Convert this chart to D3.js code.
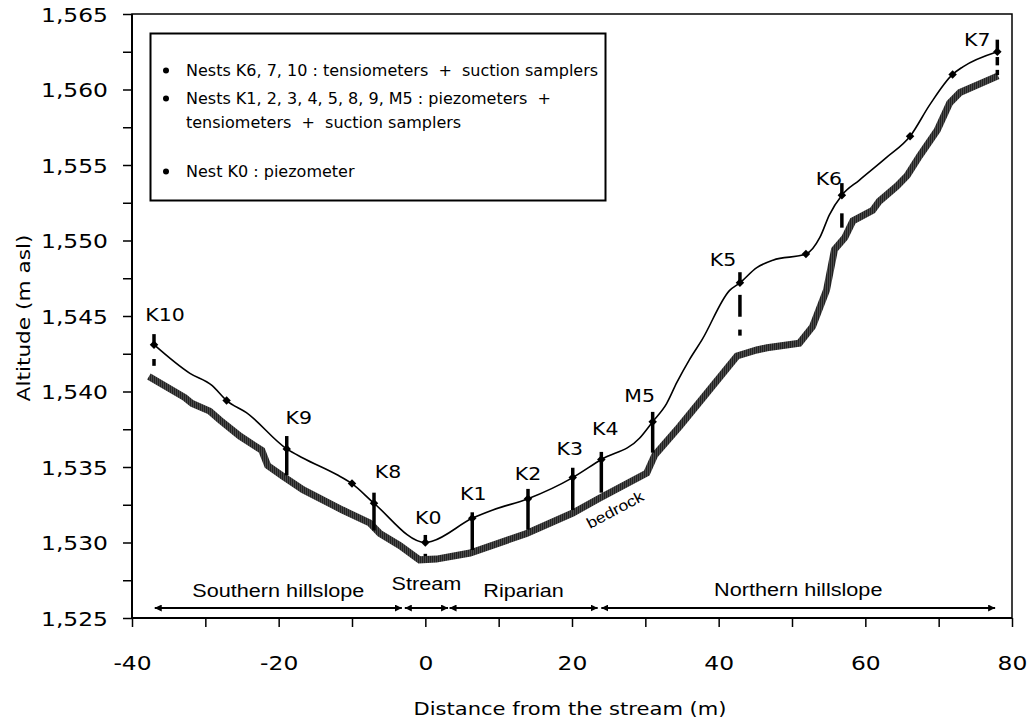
<!DOCTYPE html>
<html>
<head>
<meta charset="utf-8">
<script src="https://cdn.jsdelivr.net/npm/d3@7"></script>
<style>
  html, body { margin: 0; padding: 0; background: #fff; }
  svg { display: block; }
  text { fill: #000; }
</style>
</head>
<body>
<svg id="chart" width="1032" height="723"></svg>
<script>
// Ground surface along the transect (distance from stream, m / altitude, m asl)
const surfaceDist = [-37.0, -32.1, -29.1, -27.1, -24.4, -18.9, -16.7, -12.1, -10.0, -7.0,
  0.0, 1.0, 6.4, 9.2, 14.0, 20.1, 24.0, 29.2, 31.0, 32.9,
  34.3, 36.0, 37.7, 41.5, 42.9, 45.2, 47.4, 51.9, 53.8, 55.1,
  56.8, 59.2, 62.9, 66.1, 68.8, 71.9, 73.3, 78.0];
const surfaceAlt = [1543.1, 1541.2, 1540.4, 1539.4, 1538.6, 1536.2, 1535.6, 1534.5, 1533.9, 1532.6,
  1530.0, 1530.1, 1531.6, 1532.15, 1532.9, 1534.3, 1535.5, 1536.9, 1538.0, 1539.2,
  1540.6, 1542.1, 1543.4, 1546.7, 1547.2, 1548.2, 1548.7, 1549.1, 1550.2, 1551.7,
  1553.0, 1554.0, 1555.5, 1556.9, 1559.0, 1561.0, 1561.5, 1562.5];

// Surveyed points shown as diamonds on the surface
const markerDist = [-37.0, -27.1, -18.9, -10.0, -7.0, 0.0, 6.4, 14.0, 20.1, 24.0, 31.0, 42.9, 51.9, 56.8, 66.1, 71.9, 78.0];
const markerAlt  = [1543.1, 1539.4, 1536.2, 1533.9, 1532.6, 1530.0, 1531.6, 1532.9, 1534.3, 1535.5, 1538.0, 1547.2, 1549.1, 1553.0, 1556.9, 1561.0, 1562.5];

// Bedrock contact
const bedDist = [-37.7, -32.8, -31.8, -29.4, -28.0, -25.3, -22.3, -21.5, -19.45, -16.7,
  -11.3, -7.6, -6.2, -3.5, -0.8, 1.5, 6.1, 13.8, 20.1, 23.8,
  30.2, 31.3, 34.7, 38.4, 42.5, 45.2, 46.6, 51.0, 52.8, 54.7,
  55.8, 57.2, 58.3, 61.0, 61.9, 64.3, 65.7, 67.4, 69.8, 71.5,
  72.9, 78.1];
const bedAlt = [1541.0, 1539.6, 1539.2, 1538.7, 1538.1, 1537.05, 1536.1, 1535.1, 1534.4, 1533.5,
  1532.15, 1531.3, 1530.6, 1529.8, 1528.85, 1528.9, 1529.3, 1530.6, 1531.95, 1532.95,
  1534.6, 1535.8, 1537.7, 1539.9, 1542.35, 1542.75, 1542.9, 1543.2, 1544.3, 1546.7,
  1549.4, 1550.2, 1551.3, 1552.0, 1552.6, 1553.6, 1554.3, 1555.6, 1557.3, 1559.1,
  1559.8, 1560.9];

// Instrument nests
const nestNames = ["K10", "K9", "K8", "K0", "K1", "K2", "K3", "K4", "M5", "K5", "K6", "K7"];
const nestDist  = [-37.0, -18.9, -7.0, 0.0, 6.4, 14.0, 20.1, 24.0, 31.0, 42.9, 56.8, 78.0];
// solid part of each nest [top, bottom] (m asl)
const nestSolid = [[1543.8, 1543.1], [1537.05, 1534.45], [1533.3, 1530.8], [1530.5, 1530.0],
  [1532.0, 1529.5], [1533.55, 1530.85], [1534.95, 1532.15], [1536.0, 1533.3],
  [1538.65, 1535.95], [1547.9, 1547.2], [1553.8, 1553.0], [1563.3, 1562.5]];
// broken (dashed) parts below the surface (m asl)
const nestDashed = [[[1542.15, 1541.7]], [], [], [[1529.25, 1529.1]],
  [], [], [], [],
  [], [[1546.4, 1544.95], [1544.1, 1543.7]], [[1551.8, 1550.85]], [[1562.15, 1561.6], [1561.3, 1560.95]]];

// Landscape units along the transect
const zoneNames = ["Southern hillslope", "Stream", "Riparian", "Northern hillslope"];
const zoneFrom  = [-36.9, -2.8, 3.3, 24.0];
const zoneTo    = [-3.2, 3.1, 23.5, 77.7];

// Axis ticks
const yTicks = d3.range(1525, 1565.01, 2.5);
const xTicks = d3.range(-40, 80.01, 10);

const legendLines = [
  { bullet: true,  text: "Nests K6, 7, 10 : tensiometers  +  suction samplers" },
  { bullet: true,  text: "Nests K1, 2, 3, 4, 5, 8, 9, M5 : piezometers  +" },
  { bullet: false, text: "tensiometers  +  suction samplers" },
  { bullet: true,  text: "Nest K0 : piezometer" }
];

// ---- layout ----
const SX = 1.17; // horizontal text stretch
const VERDANA = "'DejaVu Sans', Verdana, sans-serif";
const ARIAL = "'Liberation Sans', Arial, sans-serif";
const plot = { left: 132, right: 1012, top: 14, bottom: 618 };

const svg = d3.select("#chart");
const x = d3.scaleLinear().domain([-40, 80]).range([plot.left, plot.right]);
const y = d3.scaleLinear().domain([1525, 1565]).range([plot.bottom, plot.top]);

function label(parent, str, px, py, opts = {}) {
  const rot = opts.rotate ? ` rotate(${opts.rotate})` : "";
  const sx = opts.sx == null ? SX : opts.sx;
  return parent.append("text")
    .attr("transform", `translate(${px},${py})${rot} scale(${sx},1)`)
    .attr("text-anchor", opts.anchor || "start")
    .style("font-family", opts.family || VERDANA)
    .style("font-size", (opts.size || 17) + "px")
    .style("white-space", "pre")
    .text(str);
}

const defs = svg.append("defs");
// hatched texture of the bedrock band
const hatch = defs.append("pattern").attr("id", "hatch")
  .attr("patternUnits", "userSpaceOnUse").attr("width", 2).attr("height", 2);
hatch.append("rect").attr("width", 2).attr("height", 2).attr("fill", "#4a4a4a");
hatch.append("rect").attr("width", 1).attr("height", 2).attr("fill", "#222");

["start", "end"].forEach(k => {
  defs.append("marker").attr("id", "arrow-" + k)
    .attr("viewBox", "0 0 10 10").attr("refX", k === "end" ? 10 : 0).attr("refY", 5)
    .attr("markerWidth", 7).attr("markerHeight", 7).attr("markerUnits", "userSpaceOnUse")
    .attr("orient", "auto")
    .append("path")
    .attr("d", k === "end" ? "M0,0 L10,5 L0,10 Z" : "M10,0 L0,5 L10,10 Z")
    .attr("fill", "#000");
});

// ---- axes ----
const yAxis = d3.axisLeft(y).tickValues(yTicks).tickSize(9)
  .tickFormat(d => (Math.abs(d % 5) < 1e-6 ? d3.format(",")(d) : ""));
const gy = svg.append("g").attr("transform", `translate(${plot.left},0)`).call(yAxis);
gy.select(".domain").remove();
gy.selectAll(".tick line").attr("stroke", "#000").attr("stroke-width", 1.5);
gy.selectAll(".tick text")
  .attr("x", null).attr("dy", null)
  .attr("transform", `translate(-24,7) scale(${SX},1)`)
  .style("font-family", VERDANA).style("font-size", "20px").attr("fill", "#000");

const xAxis = d3.axisBottom(x).tickValues(xTicks).tickSize(9)
  .tickFormat(d => (Math.abs(d % 20) < 1e-6 ? String(d) : ""));
const gx = svg.append("g").attr("transform", `translate(0,${plot.bottom})`).call(xAxis);
gx.select(".domain").remove();
gx.selectAll(".tick line").attr("stroke", "#000").attr("stroke-width", 1.5);
gx.selectAll(".tick text")
  .attr("y", null).attr("dy", null)
  .attr("transform", `translate(0,52) scale(${SX},1)`)
  .style("font-family", VERDANA).style("font-size", "20px").attr("fill", "#000");

// plot frame
svg.append("rect")
  .attr("x", plot.left).attr("y", plot.top)
  .attr("width", plot.right - plot.left).attr("height", plot.bottom - plot.top)
  .attr("fill", "none").attr("stroke", "#000").attr("stroke-width", 1.5);
svg.append("line").attr("x1", plot.left).attr("x2", plot.left)
  .attr("y1", plot.top).attr("y2", plot.bottom + 1).attr("stroke", "#000").attr("stroke-width", 2);
svg.append("line").attr("x1", plot.left - 1).attr("x2", plot.right)
  .attr("y1", plot.bottom).attr("y2", plot.bottom).attr("stroke", "#000").attr("stroke-width", 2);

// axis titles
label(svg, "Distance from the stream (m)", 570, 715, { anchor: "middle", size: 18 });
label(svg, "Altitude (m asl)", 30, 318, { anchor: "middle", size: 18.5, rotate: -90 });

// ---- bedrock ----
const bedPts = bedDist.map((d, i) => [x(d), y(bedAlt[i])]);
svg.append("path")
  .attr("d", d3.line().curve(d3.curveLinear)(bedPts))
  .attr("fill", "none").attr("stroke", "url(#hatch)")
  .attr("stroke-width", 7).attr("stroke-linejoin", "miter").attr("stroke-linecap", "butt");
label(svg, "bedrock", 590, 529, { size: 15, family: ARIAL, rotate: -28 });

// ---- ground surface ----
const surfPts = surfaceDist.map((d, i) => [x(d), y(surfaceAlt[i])]);
svg.append("path")
  .attr("d", d3.line().curve(d3.curveMonotoneX)(surfPts))
  .attr("fill", "none").attr("stroke", "#000").attr("stroke-width", 1.6);

// ---- nests ----
const nestG = svg.append("g");
nestNames.forEach((name, i) => {
  const cx = x(nestDist[i]);
  const [t, b] = nestSolid[i];
  nestG.append("line").attr("x1", cx).attr("x2", cx)
    .attr("y1", y(t)).attr("y2", y(b))
    .attr("stroke", "#000").attr("stroke-width", 3.5);
  nestDashed[i].forEach(([t2, b2]) => {
    nestG.append("line").attr("x1", cx).attr("x2", cx)
      .attr("y1", y(t2)).attr("y2", y(b2))
      .attr("stroke", "#000").attr("stroke-width", 3.5);
  });
});

svg.append("g").selectAll("path")
  .data(markerDist.map((d, i) => [d, markerAlt[i]]))
  .join("path")
  .attr("transform", d => `translate(${x(d[0])},${y(d[1])}) rotate(45)`)
  .attr("d", d3.symbol(d3.symbolSquare, 36))
  .attr("fill", "#000");

// nest label offsets from the top of each nest (px)
const nestLabelOffset = {
  K10: [11, -13], K9: [12, -12], K8: [14, -15], K0: [3, -11], K1: [1, -12], K2: [0, -9],
  K3: [-3, -13], K4: [4, -17], M5: [-13, -10], K5: [-17, -6], K6: [-13, 2], K7: [-20, 6]
};
nestNames.forEach((name, i) => {
  const [dx, dy] = nestLabelOffset[name];
  label(svg, name, x(nestDist[i]) + dx, y(nestSolid[i][0]) + dy, { anchor: "middle", size: 17.5 });
});

// ---- landscape units ----
const zoneY = 608;
const zoneLabelY = [596.5, 590, 596.5, 596];
zoneNames.forEach((name, i) => {
  svg.append("line")
    .attr("x1", x(zoneFrom[i])).attr("x2", x(zoneTo[i]))
    .attr("y1", zoneY).attr("y2", zoneY)
    .attr("stroke", "#000").attr("stroke-width", 1.8)
    .attr("marker-start", "url(#arrow-start)").attr("marker-end", "url(#arrow-end)");
  label(svg, name, (x(zoneFrom[i]) + x(zoneTo[i])) / 2, zoneLabelY[i],
    { anchor: "middle", size: 18.5, family: ARIAL });
});

// ---- legend ----
const lg = svg.append("g");
lg.append("rect").attr("x", 150.5).attr("y", 33.5).attr("width", 455).attr("height", 167)
  .attr("fill", "#fff").attr("stroke", "#000").attr("stroke-width", 2);
const legendBase = [76, 104, 128, 177];
legendLines.forEach((ln, i) => {
  if (ln.bullet) {
    lg.append("circle").attr("cx", 166).attr("cy", legendBase[i] - 5.5).attr("r", 3).attr("fill", "#000");
  }
  label(lg, ln.text, 186, legendBase[i], { size: 16, sx: 1.0 });
});
</script>
</body>
</html>
